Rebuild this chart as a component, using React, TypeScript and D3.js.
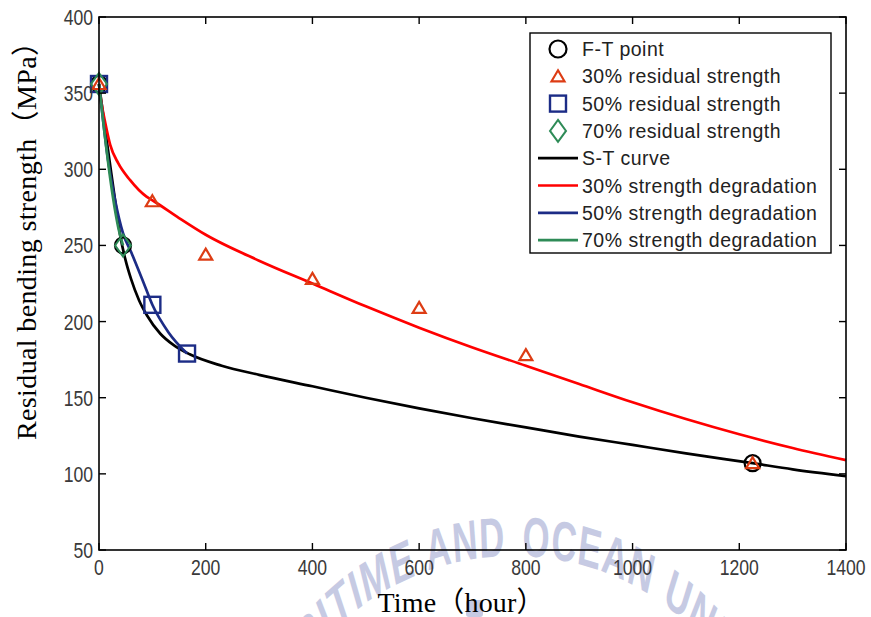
import React from "react";
import * as d3 from "d3";

const W = 871;
const H = 617;

// axis ticks
const xTicks = [0, 200, 400, 600, 800, 1000, 1200, 1400];
const yTicks = [50, 100, 150, 200, 250, 300, 350, 400];

// S-T curve (black)
const stTime = [0, 10, 20, 30, 40, 50, 60, 75, 90, 115, 140, 170, 230, 300, 400, 500, 600, 700, 800, 900, 1000, 1100, 1225, 1300, 1400];
const stStrength = [356, 330, 305, 280, 256, 240, 228, 214, 204, 192, 184.5, 178.5, 171, 165, 157.5, 150, 143, 136.5, 130.5, 124.5, 119, 113.5, 107, 103, 98.5];

// 30% strength degradation (red)
const d30Time = [0, 4, 12, 21, 36, 58, 89, 103, 150, 200, 300, 400, 500, 600, 700, 800, 900, 1000, 1100, 1200, 1300, 1400];
const d30Strength = [356, 345, 330, 316, 304, 293, 282, 279, 268, 257, 240, 225, 210, 196, 183, 171, 159, 147, 136, 126, 117, 109];

// 50% strength degradation (blue)
const d50Time = [0, 17, 30, 45, 61, 83, 100, 130, 165];
const d50Strength = [356, 306, 280, 258, 245, 226, 211, 193, 179];

// 70% strength degradation (green)
const d70Time = [0, 10, 21, 36, 45];
const d70Strength = [356, 325, 294, 262, 250];

// markers
const ftTime = [0, 45, 1225];
const ftStrength = [356, 250, 107];
const r30Time = [0, 100, 200, 400, 600, 800, 1225];
const r30Strength = [356, 279, 244, 228, 209, 178, 107];
const r50Time = [0, 100, 165];
const r50Strength = [356, 211, 179];
const r70Time = [0, 45];
const r70Strength = [356, 250];

const legendLabels = [
  "F-T point",
  "30% residual strength",
  "50% residual strength",
  "70% residual strength",
  "S-T curve",
  "30% strength degradation",
  "50% strength degradation",
  "70% strength degradation",
];

const C_RED = "#ff0000";
const C_TRI = "#dd3c14";
const C_BLUE = "#1c2c86";
const C_GREEN = "#2e8b57";
const C_TICK = "#3a3a3a";
const C_WM = "#c6cae3";

const zip = (a: number[], b: number[]) => a.map((v, i) => [v, b[i]] as [number, number]);

export default function App() {
  const left = 99, right = 846, top = 17, bottom = 550;
  const x = d3.scaleLinear().domain([0, 1400]).range([left, right]);
  const y = d3.scaleLinear().domain([50, 400]).range([bottom, top]);
  const line = d3
    .line<[number, number]>()
    .x((d) => x(d[0]))
    .y((d) => y(d[1]))
    .curve(d3.curveMonotoneX);

  const curves = [
    { data: zip(stTime, stStrength), color: "#000" },
    { data: zip(d30Time, d30Strength), color: C_RED },
    { data: zip(d50Time, d50Strength), color: C_BLUE },
    { data: zip(d70Time, d70Strength), color: C_GREEN },
  ];

  const circle = (cx: number, cy: number, k: string, r = 8) => (
    <circle key={k} cx={cx} cy={cy} r={r} fill="none" stroke="#000" strokeWidth={2.2} />
  );
  const square = (cx: number, cy: number, k: string) => (
    <rect key={k} x={cx - 8} y={cy - 8} width={16} height={16} fill="none" stroke={C_BLUE} strokeWidth={2.4} />
  );
  const diamond = (cx: number, cy: number, k: string) => (
    <path key={k} d={`M${cx},${cy - 11}L${cx + 8},${cy}L${cx},${cy + 11}L${cx - 8},${cy}Z`} fill="none" stroke={C_GREEN} strokeWidth={2} />
  );
  const triangle = (cx: number, cy: number, k: string) => (
    <path key={k} d={`M${cx},${cy - 6}L${cx + 6.5},${cy + 5}L${cx - 6.5},${cy + 5}Z`} fill="none" stroke={C_TRI} strokeWidth={2.2} />
  );

  // watermark geometry (drawn in a horizontally compressed frame)
  const sx = 0.62;
  const wcx = 514 / sx, wcy = 812, wrx = 256 / sx, wry = 256;
  const wmPath = `M${wcx},${wcy + wry} A${wrx},${wry} 0 1 1 ${wcx},${wcy - wry} A${wrx},${wry} 0 1 1 ${wcx},${wcy + wry}`;

  const legX = 530, legY = 33, legW = 301, legH = 220;
  const legRow = (i: number) => legY + 16 + i * 27.3;
  const legMarkX = 558;

  return (
    <svg width={W} height={H} style={{ display: "block", position: "absolute", left: 0, top: 0 }} xmlns="http://www.w3.org/2000/svg">
      <rect x={0} y={0} width={W} height={H} fill="#fff" />
      {/* watermark */}
      <defs>
        <path id="wmArc" d={wmPath} />
      </defs>
      <g
        transform={`scale(${sx},1)`}
        fill={C_WM}
        fontFamily="'Liberation Sans', Arial, sans-serif"
        fontWeight="bold"
        fontSize={56}
        letterSpacing={2}
        wordSpacing={2}
      >
        <text>
          <textPath href="#wmArc" startOffset="49.4%" textAnchor="end">
            KOREA MARITIME AND
          </textPath>
        </text>
        <text>
          <textPath href="#wmArc" startOffset="50.6%" textAnchor="start">
            OCEAN UNIVERSITY
          </textPath>
        </text>
      </g>
      <rect x={466} y={600} width={17} height={17} rx={3} fill={C_WM} />

      {/* curves */}
      <g fill="none" strokeWidth={2.7} strokeLinejoin="round">
        {curves.map((c, i) => (
          <path key={i} d={line(c.data) || ""} stroke={c.color} />
        ))}
      </g>

      {/* markers */}
      {zip(ftTime, ftStrength).map((d, i) => circle(x(d[0]), y(d[1]), "c" + i))}
      {zip(r50Time, r50Strength).map((d, i) => square(x(d[0]), y(d[1]), "s" + i))}
      {zip(r70Time, r70Strength).map((d, i) => diamond(x(d[0]), y(d[1]), "d" + i))}
      {zip(r30Time, r30Strength).map((d, i) => triangle(x(d[0]), y(d[1]), "t" + i))}

      {/* axes box */}
      <rect x={left} y={top} width={right - left} height={bottom - top} fill="none" stroke="#000" strokeWidth={1.6} />
      <g stroke="#000" strokeWidth={1.4}>
        {xTicks.map((t) => (
          <g key={"xt" + t}>
            <line x1={x(t)} x2={x(t)} y1={bottom} y2={bottom - 7} />
            <line x1={x(t)} x2={x(t)} y1={top} y2={top + 7} />
          </g>
        ))}
        {yTicks.map((t) => (
          <g key={"yt" + t}>
            <line x1={left} x2={left + 7} y1={y(t)} y2={y(t)} />
            <line x1={right} x2={right - 7} y1={y(t)} y2={y(t)} />
          </g>
        ))}
      </g>
      <g fill={C_TICK} fontFamily="'Liberation Sans', Arial, sans-serif" fontSize={22}>
        {xTicks.map((t) => (
          <text key={"xl" + t} transform={`translate(${x(t)},${bottom + 25}) scale(0.8,1)`} textAnchor="middle">
            {t}
          </text>
        ))}
        {yTicks.map((t) => (
          <text key={"yl" + t} transform={`translate(${left - 6},${y(t) + 8}) scale(0.8,1)`} textAnchor="end">
            {t}
          </text>
        ))}
      </g>

      {/* axis labels */}
      <text
        x={461}
        y={612}
        textAnchor="middle"
        fontFamily="'Liberation Serif', 'Noto Sans CJK KR', serif"
        fontSize={28}
        fill="#000"
        textLength={167}
        lengthAdjust="spacing"
      >
        Time（hour）
      </text>
      <text
        transform={`translate(36,234) rotate(-90)`}
        textAnchor="middle"
        fontFamily="'Liberation Serif', 'Noto Sans CJK KR', serif"
        fontSize={28}
        fill="#000"
        textLength={412}
        lengthAdjust="spacing"
      >
        Residual  bending  strength（MPa）
      </text>

      {/* legend */}
      <rect x={legX} y={legY} width={legW} height={legH} fill="#fff" stroke="#000" strokeWidth={1.4} />
      {circle(legMarkX, legRow(0), "lc", 8.5)}
      {triangle(legMarkX, legRow(1), "lt")}
      {square(legMarkX, legRow(2), "ls")}
      {diamond(legMarkX, legRow(3), "ld")}
      {["#000", C_RED, C_BLUE, C_GREEN].map((c, i) => (
        <line key={"ll" + i} x1={538} x2={578} y1={legRow(4 + i)} y2={legRow(4 + i)} stroke={c} strokeWidth={2.7} />
      ))}
      <g fontFamily="'Liberation Sans', Arial, sans-serif" fontSize={19.5} fill="#222" letterSpacing={0.5}>
        {legendLabels.map((l, i) => (
          <text key={"lt" + i} x={582} y={legRow(i) + 7}>
            {l}
          </text>
        ))}
      </g>
    </svg>
  );
}
